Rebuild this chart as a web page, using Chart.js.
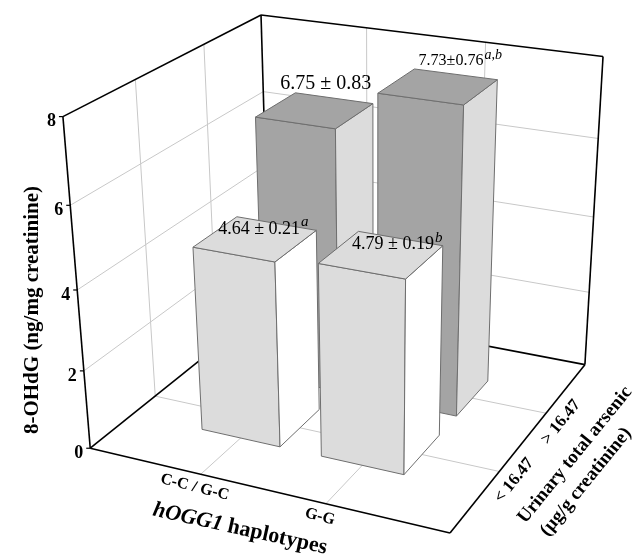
<!DOCTYPE html>
<html>

<head>
    <title>8-OHdG by hOGG1 haplotype</title>
    <meta http-equiv="Content-type" content="text/html; charset=utf-8">
    <script src="https://cdn.jsdelivr.net/npm/chart.js@4.4.1/dist/chart.umd.min.js"></script>
    <style>
        html, body { margin: 0; padding: 0; background: #fff; }
        #chart { display: block; }
    </style>
</head>

<body>
    <canvas id="chart" width="633" height="556"></canvas>

    <script>
        // -------------------- data --------------------
        var haplotypes = ['C-C / G-C', 'G-G'];
        var arsenicGroups = ['< 16.47', '> 16.47'];
        var lowArsenic = [4.64, 4.79];
        var lowSD = [0.21, 0.19];
        var lowSup = ['a', 'b'];
        var highArsenic = [6.75, 7.73];
        var highSD = [0.83, 0.76];
        var highSup = ['', 'a,b'];
        var yTicks = [0, 2, 4, 6, 8];

        // -------------------- 3d frame --------------------
        // camera fitted to the box frame: [u, v, w, screenX, screenY]
        // u: haplotype axis, v: value axis, w: arsenic axis (all 0..1)
        var frameRefs = [
            [0, 0, 0, 90, 447], [1, 0, 0, 450, 533], [1, 0, 1, 585, 365],
            [0, 1, 0, 63, 116], [0, 1, 1, 261, 15], [1, 1, 1, 603, 57],
            [0, 0.25, 0, 83.9, 372], [0, 0.5, 0, 77.3, 291], [0, 0.75, 0, 70.3, 205],
            [1, 0.25, 1, 589.3, 292], [1, 0.5, 1, 593.6, 217], [1, 0.75, 1, 598, 138]
        ];

        function fitProjection(pts) {
            var rows = [], rhs = [];
            pts.forEach(function(p) {
                var u = p[0], v = p[1], w = p[2], x = p[3], y = p[4];
                rows.push([u, v, w, 1, 0, 0, 0, 0, -x * u, -x * v, -x * w]); rhs.push(x);
                rows.push([0, 0, 0, 0, u, v, w, 1, -y * u, -y * v, -y * w]); rhs.push(y);
            });
            var n = 11, N = [], r = [], i, j, k, c;
            for (i = 0; i < n; i++) { N.push(new Array(n).fill(0)); r.push(0); }
            rows.forEach(function(row, kk) {
                for (var a = 0; a < n; a++) {
                    r[a] += row[a] * rhs[kk];
                    for (var b = 0; b < n; b++) N[a][b] += row[a] * row[b];
                }
            });
            for (c = 0; c < n; c++) {
                var piv = c;
                for (k = c + 1; k < n; k++) if (Math.abs(N[k][c]) > Math.abs(N[piv][c])) piv = k;
                var tmp = N[c]; N[c] = N[piv]; N[piv] = tmp;
                var tr = r[c]; r[c] = r[piv]; r[piv] = tr;
                for (k = c + 1; k < n; k++) {
                    var f = N[k][c] / N[c][c];
                    for (j = c; j < n; j++) N[k][j] -= f * N[c][j];
                    r[k] -= f * r[c];
                }
            }
            var m = new Array(n);
            for (c = n - 1; c >= 0; c--) {
                var s = r[c];
                for (j = c + 1; j < n; j++) s -= N[c][j] * m[j];
                m[c] = s / N[c][c];
            }
            return function(u, v, w) {
                var z = m[8] * u + m[9] * v + m[10] * w + 1;
                return [(m[0] * u + m[1] * v + m[2] * w + m[3]) / z,
                        (m[4] * u + m[5] * v + m[6] * w + m[7]) / z];
            };
        }

        var P = fitProjection(frameRefs);

        function line(ctx, p, q) {
            ctx.beginPath();
            ctx.moveTo(p[0], p[1]);
            ctx.lineTo(q[0], q[1]);
            ctx.stroke();
        }

        function poly(ctx, pts, fill, stroke) {
            ctx.beginPath();
            ctx.moveTo(pts[0][0], pts[0][1]);
            for (var i = 1; i < pts.length; i++) ctx.lineTo(pts[i][0], pts[i][1]);
            ctx.closePath();
            ctx.fillStyle = fill;
            ctx.fill();
            ctx.strokeStyle = stroke;
            ctx.lineWidth = 1;
            ctx.stroke();
        }

        function rotText(ctx, text, x, y, ang, font) {
            ctx.save();
            ctx.translate(x, y);
            ctx.rotate(ang * Math.PI / 180);
            ctx.font = font;
            ctx.textAlign = 'center';
            ctx.textBaseline = 'middle';
            ctx.fillText(text, 0, 0);
            ctx.restore();
        }

        function valueLabel(ctx, x, y, main, sup, size) {
            ctx.save();
            ctx.fillStyle = '#000';
            ctx.textBaseline = 'alphabetic';
            ctx.textAlign = 'left';
            ctx.font = size + 'px "Liberation Serif"';
            var w1 = ctx.measureText(main).width;
            ctx.font = 'italic ' + Math.round(size * 0.85) + 'px "Liberation Serif"';
            var w2 = sup ? ctx.measureText(sup).width + 1 : 0;
            var x0 = x - (w1 + w2) / 2;
            ctx.font = size + 'px "Liberation Serif"';
            ctx.fillText(main, x0, y);
            if (sup) {
                ctx.font = 'italic ' + Math.round(size * 0.85) + 'px "Liberation Serif"';
                ctx.fillText(sup, x0 + w1 + 1, y - size * 0.42);
            }
            ctx.restore();
        }

        // row 0 = front (< 16.47), row 1 = back (> 16.47)
        var rowStyle = [
            { front: '#dcdcdc', top: '#dcdcdc', side: '#ffffff', lift: 5, shift: [8, 16], sizes: [18, 18] },
            { front: '#a4a4a4', top: '#a4a4a4', side: '#dcdcdc', lift: 21, shift: [11, 22], sizes: [20, 16] }
        ];
        var rowSD = [lowSD, highSD];
        var rowSup = [lowSup, highSup];
        var halfBar = 0.33; // in category units

        var box3d = {
            id: 'box3d',
            afterDatasetsDraw: function(chart) {
                var ctx = chart.ctx;
                var xs = chart.scales.x, ys = chart.scales.y, zs = chart.scales.z;
                var U = function(val) { return (xs.getPixelForValue(val) - xs.left) / xs.width; };
                var W = function(val) { return (zs.getPixelForValue(val) - zs.left) / zs.width; };
                var V = function(val) { return (ys.bottom - ys.getPixelForValue(val)) / (ys.bottom - ys.top); };

                ctx.save();
                // grid lines
                ctx.strokeStyle = '#c8c8c8';
                ctx.lineWidth = 1;
                ys.ticks.forEach(function(t) {
                    if (t.value <= 0 || t.value >= 8) return;
                    var v = V(t.value);
                    line(ctx, P(0, v, 1), P(1, v, 1));
                    line(ctx, P(0, v, 0), P(0, v, 1));
                });
                haplotypes.forEach(function(h, i) {
                    var u = U(i + 1);
                    line(ctx, P(u, 0, 1), P(u, 1, 1));
                    line(ctx, P(u, 0, 0), P(u, 0, 1));
                });
                arsenicGroups.forEach(function(g, j) {
                    var w = W(j + 1);
                    line(ctx, P(0, 0, w), P(0, 1, w));
                    line(ctx, P(0, 0, w), P(1, 0, w));
                });

                // frame
                ctx.strokeStyle = '#000';
                ctx.lineWidth = 1.6;
                var edges = [
                    [[0, 0, 0], [0, 1, 0]], [[0, 1, 0], [0, 1, 1]], [[0, 1, 1], [1, 1, 1]],
                    [[1, 1, 1], [1, 0, 1]], [[1, 0, 1], [0, 0, 1]], [[0, 0, 1], [0, 0, 0]],
                    [[0, 0, 0], [1, 0, 0]], [[1, 0, 0], [1, 0, 1]], [[0, 0, 1], [0, 1, 1]]
                ];
                edges.forEach(function(e) {
                    line(ctx, P.apply(null, e[0]), P.apply(null, e[1]));
                });

                // y ticks + labels
                ctx.fillStyle = '#000';
                ctx.font = 'bold 18px "Liberation Serif"';
                ctx.textAlign = 'right';
                ctx.textBaseline = 'middle';
                ctx.lineWidth = 1.2;
                ys.ticks.forEach(function(t) {
                    var p = P(0, V(t.value), 0);
                    line(ctx, p, [p[0] - 4, p[1]]);
                    ctx.fillText(String(t.value), p[0] - 7, p[1] + 5);
                });

                // bars, back row first, left to right
                for (var j = chart.data.datasets.length - 1; j >= 0; j--) {
                    var meta = chart.getDatasetMeta(j);
                    var st = rowStyle[j];
                    var w0 = W(j + 1 - halfBar), w1 = W(j + 1 + halfBar);
                    meta.data.forEach(function(el, i) {
                        var xv = chart.data.datasets[j].data[i].x;
                        var u0 = U(xv - halfBar), u1 = U(xv + halfBar);
                        var vt = (el.base - el.y) / (ys.bottom - ys.top);
                        var edge = '#6e6e6e';
                        poly(ctx, [P(u0, 0, w0), P(u1, 0, w0), P(u1, vt, w0), P(u0, vt, w0)], st.front, edge);
                        poly(ctx, [P(u1, 0, w0), P(u1, 0, w1), P(u1, vt, w1), P(u1, vt, w0)], st.side, edge);
                        poly(ctx, [P(u0, vt, w0), P(u1, vt, w0), P(u1, vt, w1), P(u0, vt, w1)], st.top, edge);
                    });
                }

                // value labels
                for (var j2 = 0; j2 < chart.data.datasets.length; j2++) {
                    var meta2 = chart.getDatasetMeta(j2);
                    var st2 = rowStyle[j2];
                    var wc = W(j2 + 1);
                    meta2.data.forEach(function(el, i) {
                        var u = (el.x - xs.left) / xs.width;
                        var vt = (el.base - el.y) / (ys.bottom - ys.top);
                        var c = P(u, vt, wc);
                        var val = chart.data.datasets[j2].data[i].y;
                        var sep = st2.sizes[i] >= 18 ? ' \u00b1 ' : '\u00b1';
                        valueLabel(ctx, c[0] + st2.shift[i], c[1] - st2.lift,
                            val.toFixed(2) + sep + rowSD[j2][i].toFixed(2), rowSup[j2][i], st2.sizes[i]);
                    });
                }

                // haplotype labels
                ctx.fillStyle = '#000';
                haplotypes.forEach(function(h, i) {
                    var p = P(U(i + 1), 0, 0);
                    rotText(ctx, h, p[0] - 6, p[1] + 13, 14, 'bold 16px "Liberation Serif"');
                });

                // arsenic labels
                arsenicGroups.forEach(function(g, j) {
                    var p = P(1, 0, W(j + 1));
                    rotText(ctx, g, p[0] + 15, p[1] + 9, -51, 'bold 17px "Liberation Serif"');
                });

                // axis titles
                ctx.save();
                ctx.translate(240, 529);
                ctx.rotate(12.5 * Math.PI / 180);
                ctx.textBaseline = 'middle';
                ctx.textAlign = 'left';
                ctx.font = 'bold italic 22px "Liberation Serif"';
                var t1 = 'hOGG1';
                var t2 = ' haplotypes';
                var tw1 = ctx.measureText(t1).width;
                ctx.font = 'bold 22px "Liberation Serif"';
                var tw2 = ctx.measureText(t2).width;
                var sx = -(tw1 + tw2) / 2;
                ctx.font = 'bold italic 22px "Liberation Serif"';
                ctx.fillText(t1, sx, 0);
                ctx.font = 'bold 22px "Liberation Serif"';
                ctx.fillText(t2, sx + tw1, 0);
                ctx.restore();

                rotText(ctx, '8-OHdG (ng/mg creatinine)', 33, 310, -90, 'bold 21px "Liberation Serif"');
                rotText(ctx, 'Urinary total arsenic', 575, 455, -51, 'bold 19px "Liberation Serif"');
                rotText(ctx, '(\u00b5g/g creatinine)', 586, 482, -51, 'bold 19px "Liberation Serif"');

                ctx.restore();
            }
        };

        function points(vals) {
            return vals.map(function(v, i) { return { x: i + 1, y: v }; });
        }

        new Chart(document.getElementById('chart'), {
            type: 'bar',
            data: {
                datasets: [{
                    label: arsenicGroups[0],
                    data: points(lowArsenic),
                    grouped: false,
                    backgroundColor: 'rgba(0,0,0,0)'
                }, {
                    label: arsenicGroups[1],
                    data: points(highArsenic),
                    grouped: false,
                    backgroundColor: 'rgba(0,0,0,0)'
                }]
            },
            options: {
                responsive: false,
                animation: false,
                devicePixelRatio: 1,
                events: [],
                layout: { padding: 0 },
                plugins: { legend: { display: false }, tooltip: { enabled: false } },
                scales: {
                    x: { type: 'linear', min: 0.27, max: 2.73, display: false },
                    z: { type: 'linear', axis: 'x', position: 'bottom', min: 0.27, max: 2.73, display: false },
                    y: { min: 0, max: 8, display: false, afterBuildTicks: function(s) {
                        s.ticks = yTicks.map(function(v) { return { value: v }; });
                    } }
                }
            },
            plugins: [box3d]
        });
    </script>

</body>

</html>
